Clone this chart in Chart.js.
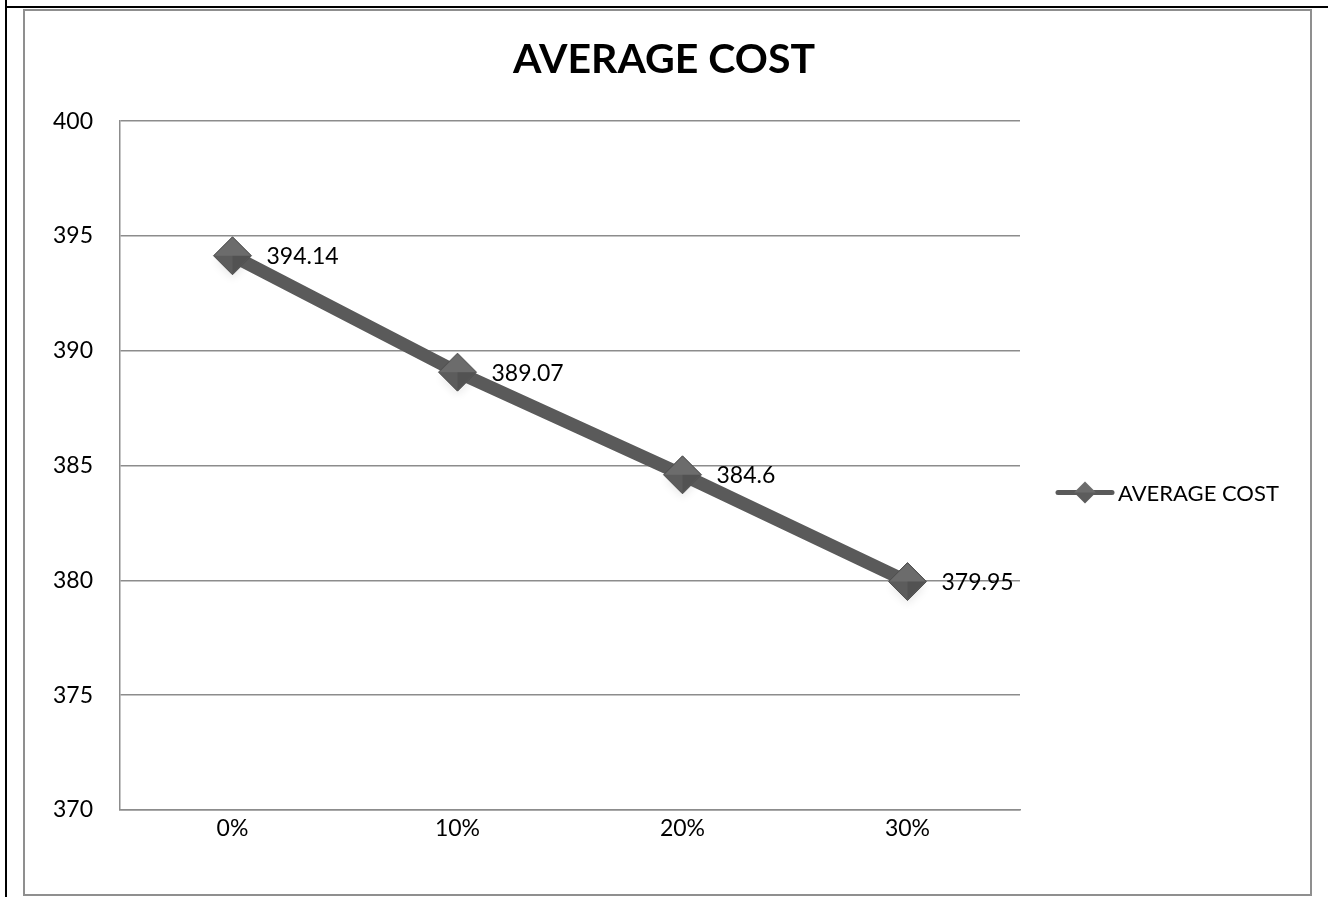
<!DOCTYPE html>
<html>
<head>
<meta charset="utf-8">
<title>AVERAGE COST</title>
<script src="https://cdn.jsdelivr.net/npm/chart.js@4.4.1/dist/chart.umd.min.js"></script>
<style>
  html, body { margin:0; padding:0; background:#fff; }
  #wrap { position:relative; width:1328px; height:897px; overflow:hidden; }
  #c { position:absolute; left:0; top:0; }
  .ln { position:absolute; pointer-events:none; }
</style>
</head>
<body>
<div id="wrap">
  <canvas id="c" width="1328" height="897"></canvas>
  <!-- page border (black) and chart frame (grey) -->
  <div class="ln" style="left:5px; top:0; width:2px; height:897px; background:#000"></div>
  <div class="ln" style="left:5px; top:6px; width:1323px; height:2px; background:#000"></div>
  <div class="ln" style="left:23px; top:9px; width:1289px; height:887px; border:2px solid #8f8f8f; box-sizing:border-box"></div>
</div>
<script>
// values
const categories = ['0%', '10%', '20%', '30%'];
const averageCost = [394.14, 389.07, 384.6, 379.95];
const seriesName = 'AVERAGE COST';
const yMin = 370, yMax = 400, yStep = 5;

const FONT = 'Lato, "Open Sans", sans-serif';
const INK = '#000';
const LINE = '#5a5a5a';
const GRID = '#8c8c8c';
const R = 19;

function diamond(ctx, x, y, r){
  ctx.beginPath();
  ctx.moveTo(x - r, y);
  ctx.lineTo(x, y - r);
  ctx.lineTo(x + r, y);
  ctx.lineTo(x, y + r);
  ctx.closePath();
}

// soft shadow under the markers and a lighter top half (office-style bevel)
const markerShade = {
  id: 'markerShade',
  beforeDatasetsDraw(chart){
    const ctx = chart.ctx;
    ctx.save();
    ctx.shadowColor = 'rgba(0,0,0,0.35)';
    ctx.shadowBlur = 8;
    ctx.shadowOffsetY = 4;
    ctx.fillStyle = 'rgba(0,0,0,0.25)';
    chart.getDatasetMeta(0).data.forEach(pt => { diamond(ctx, pt.x, pt.y + 2, R - 2); ctx.fill(); });
    ctx.restore();
  },
  afterDatasetsDraw(chart){
    const ctx = chart.ctx;
    ctx.save();
    chart.getDatasetMeta(0).data.forEach(pt => {
      ctx.fillStyle = 'rgba(255,255,255,0.10)';
      ctx.beginPath();
      ctx.moveTo(pt.x - R + 1, pt.y);
      ctx.lineTo(pt.x, pt.y - R + 1);
      ctx.lineTo(pt.x + R - 1, pt.y);
      ctx.closePath();
      ctx.fill();
      ctx.fillStyle = 'rgba(0,0,0,0.10)';
      ctx.beginPath();
      ctx.moveTo(pt.x, pt.y);
      ctx.lineTo(pt.x + R - 1, pt.y);
      ctx.lineTo(pt.x, pt.y + R - 1);
      ctx.closePath();
      ctx.fill();
    });
    ctx.restore();
  }
};

// value labels to the right of each marker
const valueLabels = {
  id: 'valueLabels',
  afterDatasetsDraw(chart){
    const ctx = chart.ctx;
    const meta = chart.getDatasetMeta(0);
    ctx.save();
    ctx.font = '23px ' + FONT;
    ctx.fillStyle = INK;
    ctx.textAlign = 'left';
    ctx.textBaseline = 'middle';
    meta.data.forEach((pt, i) => {
      ctx.fillText(String(averageCost[i]), pt.x + 34, pt.y + 1);
    });
    ctx.restore();
  }
};

// legend on the right: line + diamond + text
const sideLegend = {
  id: 'sideLegend',
  afterDraw(chart){
    const ctx = chart.ctx;
    const a = chart.chartArea;
    const x0 = a.right + 38;
    const y = (a.top + a.bottom) / 2 + 27;
    ctx.save();
    ctx.strokeStyle = LINE;
    ctx.lineWidth = 5;
    ctx.lineCap = 'round';
    ctx.beginPath();
    ctx.moveTo(x0, y);
    ctx.lineTo(x0 + 54, y);
    ctx.stroke();
    ctx.fillStyle = '#5c5c5c';
    diamond(ctx, x0 + 27, y, 11);
    ctx.fill();
    ctx.fillStyle = 'rgba(255,255,255,0.10)';
    ctx.beginPath();
    ctx.moveTo(x0 + 16, y);
    ctx.lineTo(x0 + 27, y - 11);
    ctx.lineTo(x0 + 38, y);
    ctx.closePath();
    ctx.fill();
    ctx.font = '22px ' + FONT;
    ctx.fillStyle = INK;
    ctx.textBaseline = 'middle';
    ctx.fillText(seriesName, x0 + 60, y + 1);
    ctx.restore();
  }
};

new Chart(document.getElementById('c'), {
  type: 'line',
  data: {
    labels: categories,
    datasets: [{
      label: seriesName,
      data: averageCost,
      borderColor: LINE,
      borderWidth: 13,
      pointStyle: 'rectRot',
      pointRadius: R,
      pointHoverRadius: R,
      pointBackgroundColor: '#5c5c5c',
      pointBorderColor: '#505050',
      pointBorderWidth: 1,
      tension: 0,
      fill: false
    }]
  },
  options: {
    responsive: false,
    animation: false,
    events: [],
    layout: { padding: 0 },
    plugins: {
      legend: { display: false },
      tooltip: { enabled: false },
      title: {
        display: true,
        text: seriesName,
        color: INK,
        font: { family: FONT, size: 41, weight: 'bold', lineHeight: 1.2 },
        padding: { top: 35, bottom: 37 }
      }
    },
    scales: {
      x: {
        offset: true,
        grid: { display: false, drawTicks: false },
        border: { display: true, color: GRID, width: 1.5 },
        ticks: { color: INK, font: { family: FONT, size: 23 }, padding: 5 },
        afterFit(s){ s.height = 87; }
      },
      y: {
        min: yMin, max: yMax,
        grid: { color: GRID, lineWidth: 1.5, drawTicks: false },
        border: { display: true, color: GRID, width: 1.5 },
        ticks: { stepSize: yStep, color: INK, font: { family: FONT, size: 23 }, padding: 27 },
        afterFit(s){ s.width = 120; }
      },
      side: {
        position: 'right',
        grid: { display: false, drawTicks: false },
        border: { display: false },
        ticks: { display: false },
        afterFit(s){ s.width = 308; }
      }
    }
  },
  plugins: [markerShade, valueLabels, sideLegend]
});
</script>
</body>
</html>
